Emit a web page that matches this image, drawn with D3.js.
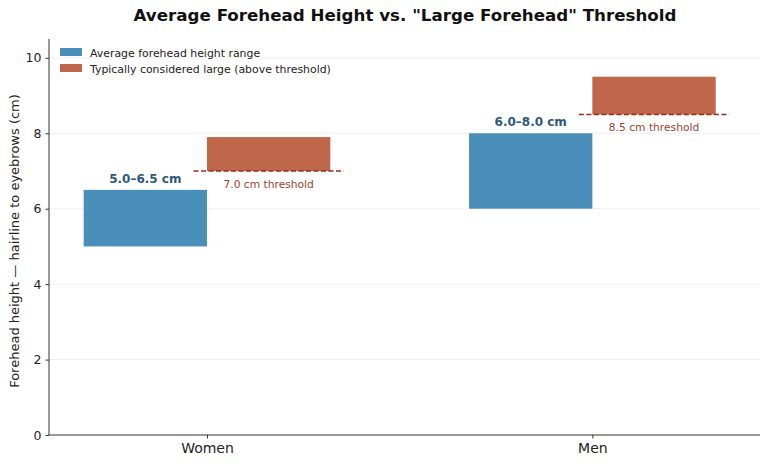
<!DOCTYPE html>
<html>
<head>
<meta charset="utf-8">
<script src="https://cdn.jsdelivr.net/npm/d3@7"></script>
<style>
  body { margin: 0; background: #fff; }
  svg { font-family: "DejaVu Sans", sans-serif; }
</style>
</head>
<body>
<svg width="768" height="466"></svg>
<script>
// data
let groups = ['Women', 'Men']
let avgLow = [5.0, 6.0]
let avgHigh = [6.5, 8.0]
let thresholds = [7.0, 8.5]
let largeTop = [7.9, 9.5]
let avgLabels = ['5.0–6.5 cm', '6.0–8.0 cm']
let threshLabels = ['7.0 cm threshold', '8.5 cm threshold']
let yTicks = [0, 2, 4, 6, 8, 10]

let blue = '#4a8fb9'
let red = '#c0664a'
let barW = 0.32

let svg = d3.select('svg')

let x = d3.scaleLinear().domain([-0.41, 1.435]).range([49, 760])
let y = d3.scaleLinear().domain([0, 10.5]).range([435, 39])

// grid
svg.append('g')
  .selectAll('line')
  .data(yTicks.slice(1))
  .join('line')
  .attr('x1', 49).attr('x2', 760)
  .attr('y1', d => y(d)).attr('y2', d => y(d))
  .attr('stroke', '#ebebeb').attr('stroke-width', 0.8)

// average bars
svg.append('g')
  .selectAll('rect')
  .data(groups)
  .join('rect')
  .attr('x', (d, i) => x(i - barW))
  .attr('width', (d, i) => x(i) - x(i - barW))
  .attr('y', (d, i) => y(avgHigh[i]))
  .attr('height', (d, i) => y(avgLow[i]) - y(avgHigh[i]))
  .style('fill', blue)

// large bars
svg.append('g')
  .selectAll('rect')
  .data(groups)
  .join('rect')
  .attr('x', (d, i) => x(i))
  .attr('width', (d, i) => x(i + barW) - x(i))
  .attr('y', (d, i) => y(largeTop[i]))
  .attr('height', (d, i) => y(thresholds[i]) - y(largeTop[i]))
  .style('fill', red)

// threshold lines
svg.append('g')
  .selectAll('line')
  .data(groups)
  .join('line')
  .attr('x1', (d, i) => x(i - 0.035))
  .attr('x2', (d, i) => x(i + barW + 0.035))
  .attr('y1', (d, i) => y(thresholds[i]))
  .attr('y2', (d, i) => y(thresholds[i]))
  .attr('stroke', '#8e2f1d').attr('stroke-width', 1.6)
  .attr('stroke-dasharray', '5,2.5')

// labels
svg.append('g')
  .selectAll('text')
  .data(groups)
  .join('text')
  .attr('x', (d, i) => x(i - barW / 2))
  .attr('y', (d, i) => y(avgHigh[i]) - 7)
  .attr('text-anchor', 'middle')
  .attr('font-size', '12px').attr('font-weight', 'bold')
  .attr('fill', '#2d5a78')
  .text((d, i) => avgLabels[i])

svg.append('g')
  .selectAll('text')
  .data(groups)
  .join('text')
  .attr('x', (d, i) => x(i + barW / 2))
  .attr('y', (d, i) => y(thresholds[i]) + 17)
  .attr('text-anchor', 'middle')
  .attr('font-size', '10.7px')
  .attr('fill', '#9c4430')
  .text((d, i) => threshLabels[i])

// axes
let yAxis = svg.append('g')
  .attr('transform', 'translate(49,0)')
  .call(d3.axisLeft(y).tickValues(yTicks).tickSize(3.5).tickPadding(4))
let xAxis = svg.append('g')
  .attr('transform', 'translate(0,435)')
  .call(d3.axisBottom(x).tickValues([0, 1]).tickFormat(i => groups[i]).tickSize(3.5).tickPadding(5))

yAxis.select('.domain').attr('d', 'M0,39V435').attr('stroke', '#333')
xAxis.select('.domain').attr('d', 'M49,0H760').attr('stroke', '#333')
yAxis.selectAll('.tick line').attr('stroke', '#333')
xAxis.selectAll('.tick line').attr('stroke', '#333')
yAxis.selectAll('text').attr('font-size', '12.5px').attr('fill', '#222').attr('font-family', 'DejaVu Sans')
xAxis.selectAll('text').attr('font-size', '14px').attr('fill', '#222').attr('font-family', 'DejaVu Sans')

// y label
svg.append('text')
  .attr('transform', 'translate(19,241) rotate(-90)')
  .attr('text-anchor', 'middle')
  .attr('font-size', '13px').attr('fill', '#222')
  .text('Forehead height — hairline to eyebrows (cm)')

// title
svg.append('text')
  .attr('x', 405).attr('y', 21)
  .attr('text-anchor', 'middle')
  .attr('font-size', '16.7px').attr('font-weight', 'bold').attr('fill', '#111')
  .text('Average Forehead Height vs. "Large Forehead" Threshold')

// legend
let legendItems = ['Average forehead height range', 'Typically considered large (above threshold)']
let legendColors = [blue, red]
let lg = svg.append('g').attr('transform', 'translate(60,48)')
legendItems.forEach((t, i) => {
  lg.append('rect').attr('x', 0).attr('y', i * 16).attr('width', 22).attr('height', 8).style('fill', legendColors[i])
  lg.append('text').attr('x', 30).attr('y', i * 16 + 8.5).attr('font-size', '10.9px').attr('fill', '#222').text(t)
})
</script>
</body>
</html>
